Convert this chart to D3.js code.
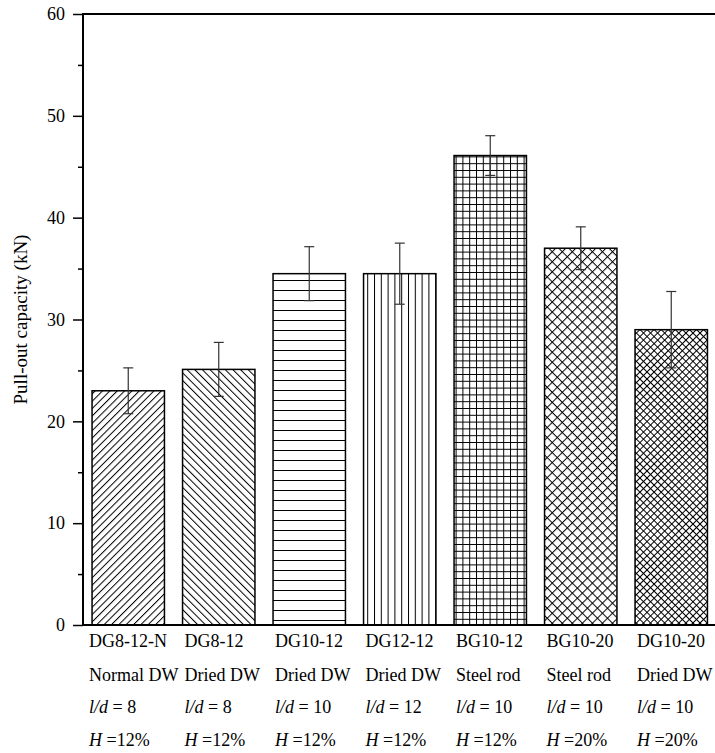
<!DOCTYPE html>
<html>
<head>
<meta charset="utf-8">
<script src="https://cdn.jsdelivr.net/npm/d3@7"></script>
<style>
  body { margin: 0; background: #fff; }
  #chart text { font-family: 'Liberation Serif', 'Times New Roman', Tinos, 'Nimbus Roman', 'DejaVu Serif', serif !important; fill: #000; }
</style>
</head>
<body>
<svg id="chart" width="715" height="753"></svg>
<script>
// Chart data
const specimens = ['DG8-12-N', 'DG8-12', 'DG10-12', 'DG12-12', 'BG10-12', 'BG10-20', 'DG10-20'];
const materials = ['Normal DW', 'Dried DW', 'Dried DW', 'Dried DW', 'Steel rod', 'Steel rod', 'Dried DW'];
const ldRatios = [8, 8, 10, 12, 10, 10, 10];
const moisture = ['12%', '12%', '12%', '12%', '12%', '20%', '20%'];
const capacity = [23.0, 25.1, 34.5, 34.5, 46.1, 37.0, 29.0];
const capacityErr = [2.25, 2.65, 2.65, 3.0, 1.95, 2.1, 3.75];
const yTicks = [0, 10, 20, 30, 40, 50, 60];
const yMinorTicks = [5, 15, 25, 35, 45, 55];

// Hatch styles for each bar (in the same order as specimens)
const hatches = [
    {id: 'h-fwd', size: 5.2, rotate: 45, lines: ['v']},
    {id: 'h-back', size: 5.4, rotate: -45, lines: ['v']},
    {id: 'h-horiz', size: 10, rotate: 0, lines: ['h']},
    {id: 'h-vert', size: 6.8, rotate: 0, lines: ['v']},
    {id: 'h-grid', size: 6.8, rotate: 0, lines: ['v', 'h']},
    {id: 'h-cross', size: 7.1, rotate: 45, lines: ['v', 'h']},
    {id: 'h-cross-fine', size: 5, rotate: 45, lines: ['v', 'h']},
];

const serif = "'Liberation Serif', 'Times New Roman', Tinos, 'Nimbus Roman', 'DejaVu Serif', serif";
const svg = d3.select('#chart');
const width = 715;
const plotLeft = 83, plotTop = 14, plotBottom = 625;

// Scales
const x = d3.scaleBand()
    .domain(specimens)
    .range([plotLeft, plotLeft + 90.5 * 7])
    .paddingInner(0.2)
    .paddingOuter(0.1);

const y = d3.scaleLinear()
    .domain([0, 60])
    .range([plotBottom, plotTop]);

// Hatch patterns
const defs = svg.append('defs');
hatches.forEach(function(h){
    const p = defs.append('pattern')
        .attr('id', h.id)
        .attr('patternUnits', 'userSpaceOnUse')
        .attr('width', h.size)
        .attr('height', h.size)
        .attr('patternTransform', `rotate(${h.rotate})`);
    p.append('rect').attr('width', h.size).attr('height', h.size).attr('fill', '#fff');
    h.lines.forEach(function(dir){
        p.append('line')
            .attr('x1', dir === 'v' ? 0.5 : 0)
            .attr('x2', dir === 'v' ? 0.5 : h.size)
            .attr('y1', dir === 'v' ? 0 : 0.5)
            .attr('y2', dir === 'v' ? h.size : 0.5)
            .attr('stroke', '#000')
            .attr('stroke-width', 1);
    });
});

// Bars
svg.append('g').selectAll('rect')
    .data(specimens)
    .join('rect')
    .attr('x', d => x(d))
    .attr('y', (d, i) => y(capacity[i]))
    .attr('width', x.bandwidth())
    .attr('height', (d, i) => y(0) - y(capacity[i]))
    .attr('fill', (d, i) => `url(#${hatches[i].id})`)
    .attr('stroke', '#000')
    .attr('stroke-width', 1.5);

// Error bars
const errG = svg.append('g')
    .attr('stroke', '#333')
    .attr('stroke-width', 1.2);
specimens.forEach(function(d, i){
    const cx = x(d) + x.bandwidth() / 2;
    const lo = y(capacity[i] - capacityErr[i]);
    const hi = y(capacity[i] + capacityErr[i]);
    errG.append('line').attr('x1', cx).attr('x2', cx).attr('y1', lo).attr('y2', hi);
    errG.append('line').attr('x1', cx - 5).attr('x2', cx + 5).attr('y1', lo).attr('y2', lo);
    errG.append('line').attr('x1', cx - 5).attr('x2', cx + 5).attr('y1', hi).attr('y2', hi);
});

// Y axis with major and minor ticks
const yAxis = svg.append('g')
    .attr('transform', `translate(${plotLeft},0)`)
    .call(d3.axisLeft(y).tickValues(yTicks).tickSize(10).tickPadding(8).tickFormat(d3.format('d')));
yAxis.attr('font-family', null).attr('font-size', null);
yAxis.selectAll('text').style('font-family', serif).style('font-size', '18px');
yAxis.selectAll('line').attr('stroke-width', 1.5);
yAxis.select('.domain').remove();

svg.append('g')
    .attr('transform', `translate(${plotLeft},0)`)
    .call(d3.axisLeft(y).tickValues(yMinorTicks).tickSize(5).tickFormat(''))
    .call(g => g.select('.domain').remove())
    .selectAll('line').attr('stroke-width', 1.5);

// Frame lines (left, top, bottom)
const frame = svg.append('g').attr('stroke', '#000').attr('stroke-width', 2);
frame.append('line').attr('x1', plotLeft).attr('x2', plotLeft).attr('y1', plotTop).attr('y2', plotBottom);
frame.append('line').attr('x1', plotLeft - 1).attr('x2', width).attr('y1', plotTop).attr('y2', plotTop);
frame.append('line').attr('x1', plotLeft - 1).attr('x2', width).attr('y1', plotBottom).attr('y2', plotBottom);

// Y axis title
svg.append('text')
    .attr('transform', `translate(27,${(plotTop + plotBottom) / 2}) rotate(-90)`)
    .attr('text-anchor', 'middle')
    .style('font-family', serif)
    .style('font-size', '19px')
    .text('Pull-out capacity (kN)');

// Category labels (four rows)
const labelG = svg.append('g').style('font-family', serif).style('font-size', '18px');
const rowY = [647, 681, 713, 746];
specimens.forEach(function(d, i){
    const lx = x(d) + (i === 0 ? -3 : 2);
    labelG.append('text').attr('x', lx).attr('y', rowY[0]).text(d);
    labelG.append('text').attr('x', lx).attr('y', rowY[1]).text(materials[i]);
    const ld = labelG.append('text').attr('x', lx).attr('y', rowY[2]);
    ld.append('tspan').style('font-style', 'italic').text('l/d');
    ld.append('tspan').text(' = ' + ldRatios[i]);
    const hm = labelG.append('text').attr('x', lx).attr('y', rowY[3]);
    hm.append('tspan').style('font-style', 'italic').text('H');
    hm.append('tspan').text(' =' + moisture[i]);
});
</script>
</body>
</html>
